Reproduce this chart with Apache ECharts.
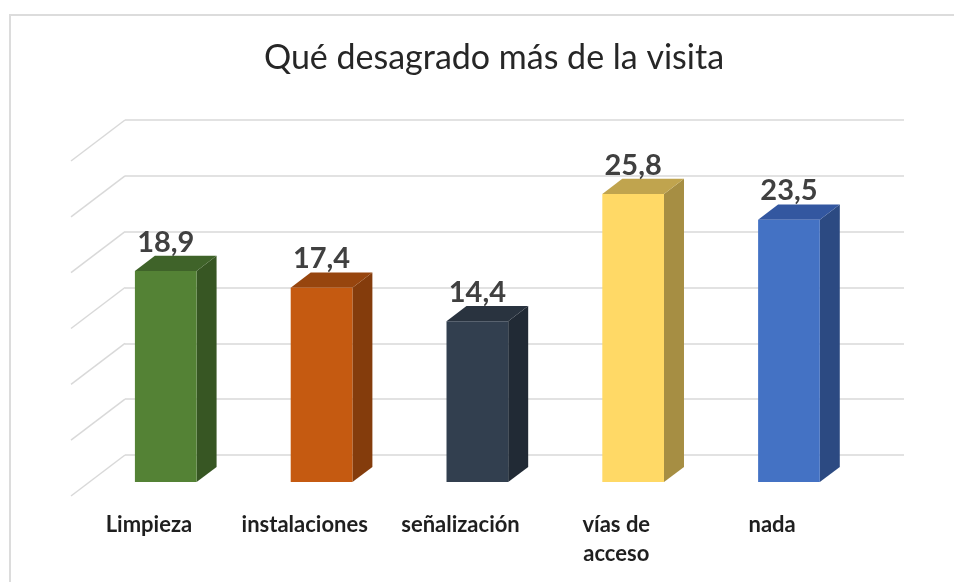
<!DOCTYPE html>
<html>
<head>
<meta charset="utf-8">
<script src="https://cdn.jsdelivr.net/npm/echarts@6/dist/echarts.min.js"></script>
<style>
  html, body { margin: 0; padding: 0; background: #ffffff; }
  #chart { width: 954px; height: 582px; }
</style>
</head>
<body>
<div id="chart"></div>
<script>
// Survey results: what visitors disliked most
const titleText = 'Qué desagrado más de la visita';
const categories = ['Limpieza', 'instalaciones', 'señalización', 'vías de\nacceso', 'nada'];
const values = [18.9, 17.4, 14.4, 25.8, 23.5];
const yTicks = [0, 5, 10, 15, 20, 25, 30];

// Face colours per bar: front, side, top
const frontColors = ['#548235', '#C55A11', '#323F4F', '#FFD966', '#4472C4'];
const sideColors  = ['#375623', '#843C0C', '#212A35', '#A68E43', '#2C4A82'];
const topColors   = ['#3F6329', '#97450E', '#29333F', '#C0A44E', '#3357A0'];

// Oblique depth vector from the back wall to the front of the floor
const DEPTH_X = -54, DEPTH_Y = 41;
const FRONT_T = 0.66;   // depth fraction of the bars' front face
const BACK_T = 0.29;    // depth fraction of the bars' back face
const BAR_RATIO = 0.396;

function fmt(v) { return v.toFixed(1).replace('.', ','); }

const chart = echarts.init(document.getElementById('chart'), null, { renderer: 'canvas' });

const option = {
  animation: false,
  backgroundColor: '#ffffff',
  title: {
    text: titleText,
    left: 489,
    textAlign: 'center',
    top: 36,
    textStyle: { fontFamily: 'Lato', fontWeight: 'normal', fontSize: 34, color: '#262626' }
  },
  graphic: [{
    type: 'rect',
    shape: { x: 10, y: 15, width: 960, height: 600 },
    style: { fill: 'none', stroke: '#DCDCDC', lineWidth: 2 },
    silent: true, z: -10
  }],
  grid: [
    // back wall
    { left: 125, top: 120, width: 779, height: 335 },
    // front edge of the floor, used for the category labels
    { left: 125 + DEPTH_X, top: 120 + DEPTH_Y, width: 779, height: 335 }
  ],
  xAxis: [
    { type: 'category', gridIndex: 0, data: categories, show: false },
    {
      type: 'category', gridIndex: 1, data: categories,
      axisLine: { show: false }, axisTick: { show: false }, splitLine: { show: false },
      axisLabel: {
        margin: 14, interval: 0,
        fontFamily: 'Lato', fontWeight: 'bold', fontSize: 22, color: '#1f1f1f',
        lineHeight: 29
      }
    }
  ],
  yAxis: [
    {
      type: 'value', gridIndex: 0, min: 0, max: 30, interval: 5,
      axisLine: { show: false }, axisTick: { show: false }, axisLabel: { show: false },
      splitLine: { lineStyle: { color: '#D9D9D9', width: 1.5 } }
    },
    { type: 'value', gridIndex: 1, min: 0, max: 30, show: false }
  ],
  series: [
    {
      // side-wall gridlines running toward the viewer
      type: 'custom',
      xAxisIndex: 0, yAxisIndex: 0,
      silent: true, z: 1,
      data: yTicks.map(v => [0, v]),
      renderItem: function (params, api) {
        const p = api.coord([0, api.value(1)]);
        const x0 = params.coordSys.x;
        return {
          type: 'line',
          shape: { x1: x0, y1: p[1], x2: x0 + DEPTH_X, y2: p[1] + DEPTH_Y },
          style: { stroke: '#D9D9D9', lineWidth: 1.5 }
        };
      }
    },
    {
      // 3D bars
      type: 'custom',
      xAxisIndex: 0, yAxisIndex: 0,
      z: 5,
      data: values.map((v, i) => [i, v]),
      renderItem: function (params, api) {
        const i = api.value(0);
        const v = api.value(1);
        const base = api.coord([i, 0]);
        const top = api.coord([i, v]);
        const band = api.size([1, 0])[0];
        const w = band * BAR_RATIO;
        const fdx = DEPTH_X * FRONT_T - 1.5, fdy = DEPTH_Y * FRONT_T;
        const bdx = DEPTH_X * BACK_T - 1.5, bdy = DEPTH_Y * BACK_T;
        const sx = bdx - fdx, sy = bdy - fdy;
        const xl = base[0] + fdx - w / 2;
        const xr = base[0] + fdx + w / 2;
        const yb = base[1] + fdy;
        const yt = top[1] + fdy;
        return {
          type: 'group',
          children: [
            {
              type: 'polygon',
              shape: { points: [[xr, yb], [xr + sx, yb + sy], [xr + sx, yt + sy], [xr, yt]] },
              style: { fill: sideColors[i] }
            },
            {
              type: 'polygon',
              shape: { points: [[xl, yt], [xr, yt], [xr + sx, yt + sy], [xl + sx, yt + sy]] },
              style: { fill: topColors[i] }
            },
            {
              type: 'rect',
              shape: { x: xl, y: yt, width: w, height: yb - yt },
              style: { fill: frontColors[i] }
            },
            {
              type: 'text',
              x: (xl + xr) / 2,
              y: yt + sy + 1,
              style: {
                text: fmt(v),
                align: 'center',
                verticalAlign: 'bottom',
                fontFamily: 'Lato',
                fontWeight: 'bold',
                fontSize: 29,
                fill: '#404040'
              }
            }
          ]
        };
      }
    }
  ]
};

chart.setOption(option);
</script>
</body>
</html>
